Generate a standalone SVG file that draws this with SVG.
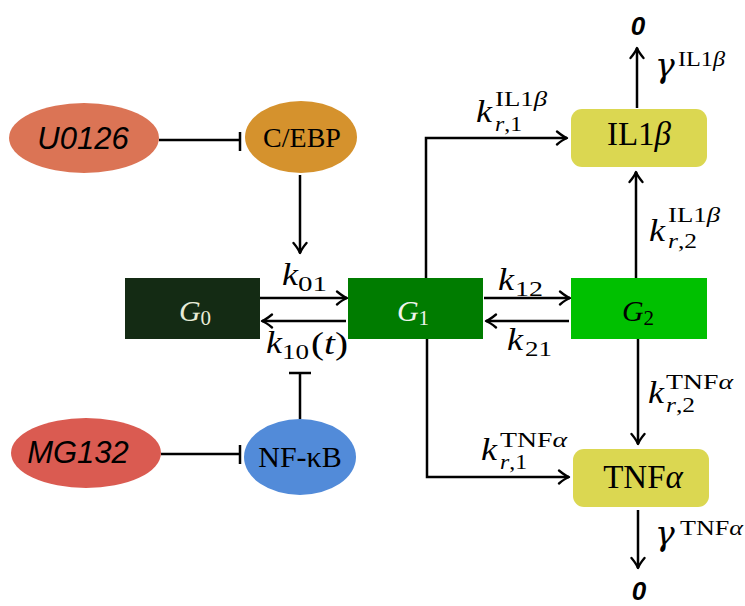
<svg xmlns="http://www.w3.org/2000/svg" width="745" height="606" viewBox="0 0 745 606">
<defs>
<marker id="arr" markerUnits="userSpaceOnUse" viewBox="-12 -8 14 16" markerWidth="14" markerHeight="16" refX="0" refY="0" orient="auto">
<path d="M-10,-6.5 Q-4,-1.5 0,0 Q-4,1.5 -10,6.5" fill="none" stroke="#000" stroke-width="2.3" stroke-linecap="round" stroke-linejoin="round"/>
</marker>
<style>
.cn{stroke:#000;stroke-width:2.5;fill:none}
.ar{marker-end:url(#arr)}
.m{font-family:"Liberation Serif","DejaVu Serif",serif;fill:#000}
.g{font-family:"DejaVu Serif",serif;font-style:italic;font-size:33px;fill:#000}
.it{font-style:italic}
.big{font-size:32px}
.sc{font-size:21px}
.sans{font-family:"Liberation Sans",Arial,sans-serif;font-style:italic;fill:#000}
.zero{font-family:"Liberation Sans",Arial,sans-serif;font-style:italic;font-weight:bold;font-size:26px;text-anchor:middle}
.box{font-size:33px;text-anchor:middle}
</style>
</defs>
<rect width="745" height="606" fill="#fff"/>

<g id="connectors">
<path class="cn" d="M159,140 H240 M240,132 V151"/>
<path class="cn" d="M161,454 H240 M240,445 V464"/>
<path class="cn" d="M300,419 V373 M289,373 H311"/>
<path class="cn ar" d="M300,175 V253"/>
<path class="cn ar" d="M260,298 H347"/>
<path class="cn ar" d="M346,321 H262"/>
<path class="cn ar" d="M484,298 H570"/>
<path class="cn ar" d="M569,321 H486"/>
<path class="cn ar" d="M426,278 V138 H567"/>
<path class="cn ar" d="M427,338 V477 H569"/>
<path class="cn ar" d="M636,278 V172"/>
<path class="cn ar" d="M638,338 V444"/>
<path class="cn ar" d="M637,108 V48"/>
<path class="cn ar" d="M638,510 V568"/>
</g>

<g id="labels">
<text class="m it big" x="282" y="285" textLength="16" lengthAdjust="spacingAndGlyphs">k</text>
<text class="m sc" x="298" y="291" textLength="29" lengthAdjust="spacingAndGlyphs">01</text>
<text class="m it big" x="266" y="353" textLength="16" lengthAdjust="spacingAndGlyphs">k</text>
<text class="m sc" x="282" y="359" textLength="27" lengthAdjust="spacingAndGlyphs">10</text>
<text class="m big" x="311" y="354" textLength="37" lengthAdjust="spacingAndGlyphs">(<tspan class="it">t</tspan>)</text>
<text class="m it big" x="498" y="290" textLength="16" lengthAdjust="spacingAndGlyphs">k</text>
<text class="m sc" x="515" y="296" textLength="28" lengthAdjust="spacingAndGlyphs">12</text>
<text class="m it big" x="507" y="350" textLength="16" lengthAdjust="spacingAndGlyphs">k</text>
<text class="m sc" x="525" y="356" textLength="27" lengthAdjust="spacingAndGlyphs">21</text>

<text class="m it big" x="476" y="122" textLength="16" lengthAdjust="spacingAndGlyphs">k</text>
<text class="m sc" x="495" y="106" textLength="52" lengthAdjust="spacingAndGlyphs">IL1<tspan class="it">β</tspan></text>
<text class="m sc" x="495" y="131" textLength="27" lengthAdjust="spacingAndGlyphs"><tspan class="it">r</tspan>,1</text>

<text class="m it big" x="649" y="241" textLength="16" lengthAdjust="spacingAndGlyphs">k</text>
<text class="m sc" x="668" y="222" textLength="52" lengthAdjust="spacingAndGlyphs">IL1<tspan class="it">β</tspan></text>
<text class="m sc" x="668" y="248" textLength="29" lengthAdjust="spacingAndGlyphs"><tspan class="it">r</tspan>,2</text>

<text class="m it big" x="648" y="403" textLength="16" lengthAdjust="spacingAndGlyphs">k</text>
<text class="m sc" x="666" y="389" textLength="67" lengthAdjust="spacingAndGlyphs">TNF<tspan class="it">α</tspan></text>
<text class="m sc" x="666" y="412" textLength="29" lengthAdjust="spacingAndGlyphs"><tspan class="it">r</tspan>,2</text>

<text class="m it big" x="481" y="460" textLength="16" lengthAdjust="spacingAndGlyphs">k</text>
<text class="m sc" x="500" y="447" textLength="67" lengthAdjust="spacingAndGlyphs">TNF<tspan class="it">α</tspan></text>
<text class="m sc" x="500" y="469" textLength="27" lengthAdjust="spacingAndGlyphs"><tspan class="it">r</tspan>,1</text>

<text class="g" x="655" y="77">γ</text>
<text class="m sc" x="678" y="66" textLength="47" lengthAdjust="spacingAndGlyphs">IL1<tspan class="it">β</tspan></text>
<text class="g" x="655" y="545">γ</text>
<text class="m sc" x="680" y="535" textLength="63" lengthAdjust="spacingAndGlyphs">TNF<tspan class="it">α</tspan></text>

<text class="zero" x="638" y="35">0</text>
<text class="zero" x="639" y="600">0</text>
</g>

<g id="U0126">
<ellipse cx="84" cy="138" rx="75" ry="35" fill="#db7455"/>
<text class="sans" x="83" y="149" font-size="31" text-anchor="middle">U0126</text>
</g>
<g id="CEBP">
<ellipse cx="301" cy="137" rx="56" ry="36" fill="#d5922d"/>
<text class="m" x="302" y="147" font-size="28" text-anchor="middle">C/EBP</text>
</g>
<g id="MG132">
<ellipse cx="86" cy="453" rx="75" ry="35" fill="#da5b51"/>
<text class="sans" x="78" y="463" font-size="31" text-anchor="middle">MG132</text>
</g>
<g id="NFkB">
<ellipse cx="300" cy="457" rx="56" ry="38" fill="#528bd9"/>
<text class="m" x="300" y="467" font-size="30" text-anchor="middle">NF-κB</text>
</g>

<g id="G0">
<rect x="125" y="278" width="135" height="61" fill="#142b14"/>
<text class="m" x="195" y="321" font-size="30" text-anchor="middle" style="fill:#e8ecd8"><tspan class="it">G</tspan><tspan font-size="21" dy="4">0</tspan></text>
</g>
<g id="G1">
<rect x="348" y="278" width="135" height="61" fill="#007c00"/>
<text class="m" x="413" y="321" font-size="30" text-anchor="middle" style="fill:#f0f4ec"><tspan class="it">G</tspan><tspan font-size="21" dy="4">1</tspan></text>
</g>
<g id="G2">
<rect x="571" y="278" width="136" height="61" fill="#00c000"/>
<text class="m" x="638" y="321" font-size="30" text-anchor="middle"><tspan class="it">G</tspan><tspan font-size="21" dy="4">2</tspan></text>
</g>

<g id="IL1b">
<rect x="571" y="109" width="136" height="58" rx="11" fill="#dbd751"/>
<text class="m box" x="639" y="145">IL1<tspan class="it">β</tspan></text>
</g>
<g id="TNFa">
<rect x="573" y="449" width="136" height="58" rx="11" fill="#dbd751"/>
<text class="m box" x="643" y="488">TNF<tspan class="it">α</tspan></text>
</g>
</svg>
